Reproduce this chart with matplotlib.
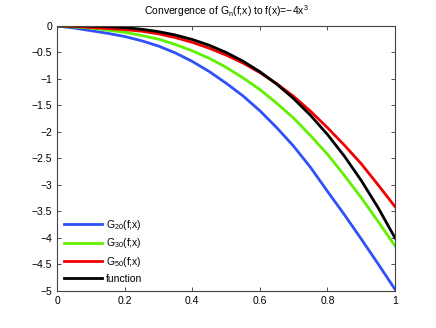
import numpy as np
import matplotlib
matplotlib.use("Agg")
import matplotlib.pyplot as plt

# values
x = [0.0, 0.05, 0.1, 0.15, 0.2, 0.25, 0.3, 0.35, 0.4, 0.45, 0.5,
     0.55, 0.6, 0.65, 0.7, 0.75, 0.8, 0.85, 0.9, 0.95, 1.0]
g20 = [0, -0.04, -0.09, -0.14, -0.20, -0.28, -0.38, -0.51, -0.67, -0.86, -1.08,
       -1.32, -1.60, -1.92, -2.27, -2.67, -3.12, -3.56, -4.02, -4.49, -4.97]
g30 = [0, -0.02, -0.04, -0.08, -0.12, -0.18, -0.25, -0.35, -0.47, -0.61, -0.78,
       -0.98, -1.20, -1.46, -1.74, -2.07, -2.42, -2.82, -3.24, -3.69, -4.15]
g50 = [0, -0.01, -0.03, -0.05, -0.07, -0.10, -0.15, -0.22, -0.31, -0.42, -0.55,
       -0.70, -0.88, -1.09, -1.33, -1.61, -1.92, -2.25, -2.60, -3.00, -3.41]
func = [0, -0.0005, -0.004, -0.0135, -0.032, -0.0625, -0.108, -0.1715, -0.256, -0.3645, -0.5,
        -0.6655, -0.864, -1.0985, -1.372, -1.6875, -2.048, -2.4565, -2.916, -3.4295, -4.0]

labels = [r"G$_{\mathregular{20}}$(f;x)", r"G$_{\mathregular{30}}$(f;x)",
          r"G$_{\mathregular{50}}$(f;x)", "function"]
colors = ["#3050f8", "#60f000", "#f00000", "black"]

plt.rcParams["font.family"] = ["Liberation Sans", "DejaVu Sans"]
fs = 7.5

fig = plt.figure(figsize=(4.36, 3.28), dpi=100)
ax = fig.add_axes([0.131, 0.113, 0.775, 0.808])

for ys, c, lab in zip([g20, g30, g50, func], colors, labels):
    ax.plot(x, ys, color=c, linewidth=2, label=lab)

ax.set_xlim(0, 1)
ax.set_ylim(-5, 0)
ax.set_xticks(np.arange(0, 1.01, 0.2))
ax.set_xticklabels(["0", "0.2", "0.4", "0.6", "0.8", "1"])
ax.set_yticks(np.arange(-5, 0.01, 0.5))
ax.set_yticklabels(["\u22125", "\u22124.5", "\u22124", "\u22123.5", "\u22123", "\u22122.5",
                    "\u22122", "\u22121.5", "\u22121", "\u22120.5", "0"])
ax.tick_params(direction="in", top=True, right=True, labelsize=fs, length=3,
               width=0.6, colors="#333333", labelcolor="black")
for s in ax.spines.values():
    s.set_linewidth(0.8)
    s.set_color("#444444")

ax.set_title("Convergence of G$_{\\mathregular{n}}$(f;x) to f(x)=\u22124x$^{\\mathregular{3}}$",
             fontsize=fs, pad=8)
ax.legend(loc="lower left", frameon=False, fontsize=fs, handlelength=3.6,
          handletextpad=0.4, labelspacing=0.45, borderaxespad=0.3)

fig.savefig("out.png", dpi=100)
